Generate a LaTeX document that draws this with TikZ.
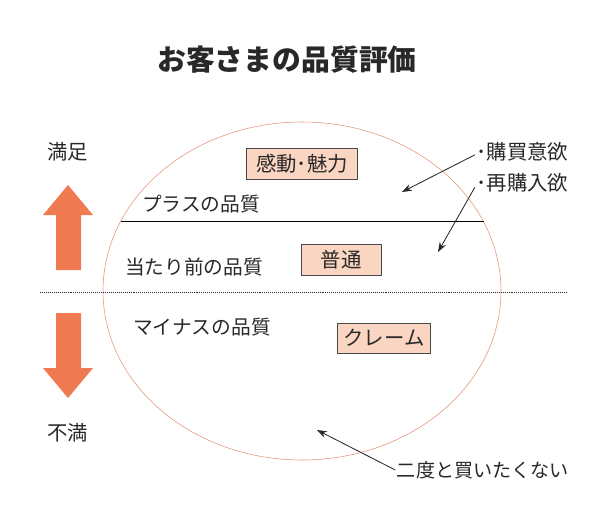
\documentclass[tikz,border=0pt]{standalone}
\usepackage{fontspec}
\setmainfont{Noto Sans CJK JP}
\usetikzlibrary{positioning, arrows.meta}
\definecolor{warm}{RGB}{240, 122, 82}
\definecolor{rim}{RGB}{226, 150, 122}
\definecolor{boxfill}{RGB}{250, 213, 194}
\definecolor{ink}{RGB}{40, 40, 40}

\begin{document}
\begin{tikzpicture}[
    x=0.025cm, y=-0.025cm,
    lbl/.style={
        text=ink,
        font=\fontsize{14}{16}\selectfont,
        inner sep=1pt
    },
    tag_style/.style={
        draw=ink!85,
        fill=boxfill,
        text=ink,
        font=\fontsize{14.5}{16}\selectfont,
        minimum height=0.77cm,
        inner sep=0pt
    },
    ptr/.style={-{Stealth[length=7pt, width=5pt]}, ink, semithick},
    big_arrow/.style={fill=warm, draw=none}
]

\useasboundingbox (0,0) rectangle (600,522);

\node[text=ink, font=\fontsize{20.5}{24}\selectfont\bfseries] (title) at (287,60) {お客さまの品質評価};

% quality ellipse
\draw[rim, thin] (302,291) ellipse [x radius=199, y radius=169];
\coordinate (plusL) at (121,221);
\coordinate (plusR) at (484,221);
\draw[black, thin] (plusL) -- (plusR);

\coordinate (midL) at (40,292);
\coordinate (midR) at (567,292);
\draw[ink, densely dotted, thin] (midL) -- (midR);

% satisfaction arrows
\node[lbl, font=\fontsize{14.5}{16}\selectfont] (good) at (68,152) {満足};
\node[lbl, font=\fontsize{14.5}{16}\selectfont] (bad) at (68,433) {不満};
\fill[big_arrow] (68,185) -- (93,215) -- (81,215) -- (81,270)
    -- (56,270) -- (56,215) -- (43,215) -- cycle;
\fill[big_arrow] (68,398) -- (93,368) -- (81,368) -- (81,313)
    -- (56,313) -- (56,368) -- (43,368) -- cycle;

\node[lbl] (plus) at (201,204) {プラスの品質};
\node[lbl] (base) at (194,267) {当たり前の品質};
\node[lbl] (minus) at (202,327) {マイナスの品質};

\node[tag_style, minimum width=2.78cm] (charm) at (302,164) {感動･魅力};
\node[tag_style, minimum width=2.0cm] (usual) at (341,260) {普通};
\node[tag_style, minimum width=2.33cm, minimum height=0.75cm] (claim) at (384,338) {クレーム};

% comments on the right
\node[lbl, font=\fontsize{14.5}{16}\selectfont, anchor=east] (buy) at (570,152) {･購買意欲};
\node[lbl, font=\fontsize{14.5}{16}\selectfont, anchor=east] (rebuy) at (570,183) {･再購入欲};
\node[lbl, font=\fontsize{13.6}{16}\selectfont] (never) at (483,470) {二度と買いたくない};

\coordinate (buyTip) at (402,192);
\coordinate (rebuyTip) at (438,252);
\coordinate (neverTip) at (317,430);

\draw[ptr] ([yshift=-2pt]buy.west) -- (buyTip);
\draw[ptr] ([yshift=-3pt]rebuy.west) -- (rebuyTip);
\draw[ptr] (never.west) -- (neverTip);

\end{tikzpicture}
\end{document}
